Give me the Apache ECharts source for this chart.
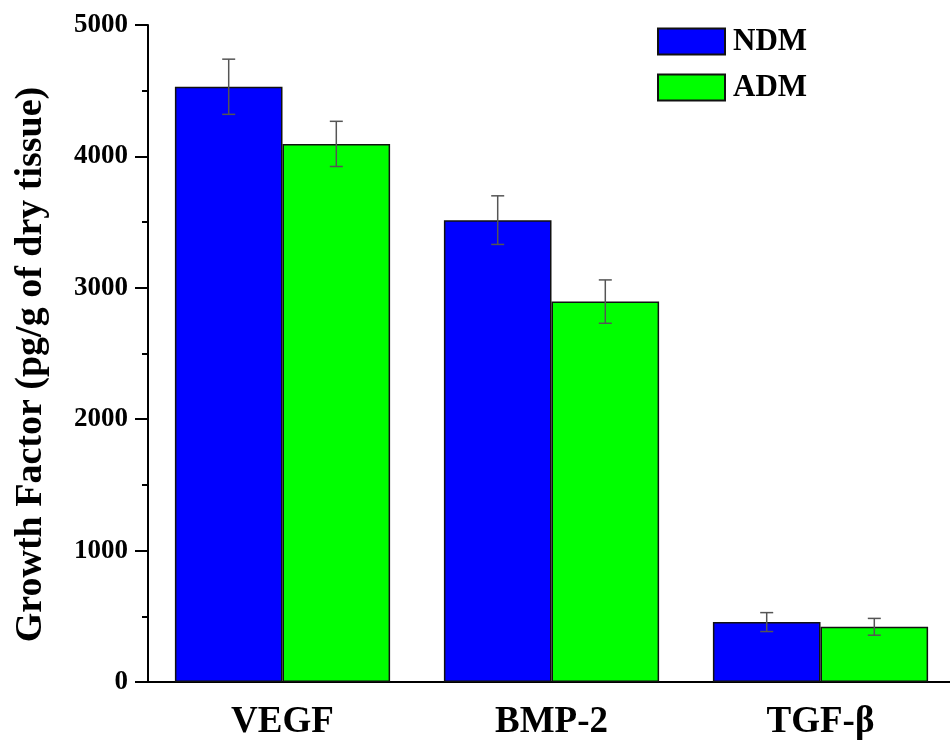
<!DOCTYPE html>
<html>
<head>
<meta charset="utf-8">
<script src="https://cdn.jsdelivr.net/npm/echarts@6/dist/echarts.min.js"></script>
<style>html,body{margin:0;padding:0;background:#fff;}#c{width:950px;height:740px;}</style>
</head>
<body>
<div id="c"></div>
<script>
const categories = ['VEGF', 'BMP-2', 'TGF-\u03b2'];
const seriesNames = ['NDM', 'ADM'];
const ndmValues = [4530, 3515, 456];
const ndmErrors = [210, 185, 72];
const admValues = [4095, 2895, 420];
const admErrors = [172, 165, 64];
const yTicks = [0, 1000, 2000, 3000, 4000, 5000];

const FONT = "'Liberation Serif', 'Times New Roman', serif";
const chart = echarts.init(document.getElementById('c'));

function errSeries(values, errors, idx) {
  return {
    type: 'custom',
    xAxisIndex: 0,
    yAxisIndex: 0,
    z: 5,
    silent: true,
    data: values.map((v, i) => [i, v - errors[i], v + errors[i]]),
    renderItem: function (params, api) {
      const lo = api.coord([api.value(0), api.value(1)]);
      const hi = api.coord([api.value(0), api.value(2)]);
      const band = api.size([1, 0])[0];
      const bw = band * 0.8 / 2;
      const x = lo[0] + (idx === 0 ? -bw / 2 : bw / 2);
      const cap = 6.5;
      const style = { stroke: '#555', lineWidth: 1.5 };
      return {
        type: 'group',
        children: [
          { type: 'line', shape: { x1: x, y1: lo[1], x2: x, y2: hi[1] }, style: style },
          { type: 'line', shape: { x1: x - cap, y1: hi[1], x2: x + cap, y2: hi[1] }, style: style },
          { type: 'line', shape: { x1: x - cap, y1: lo[1], x2: x + cap, y2: lo[1] }, style: style }
        ]
      };
    }
  };
}

chart.setOption({
  animation: false,
  backgroundColor: '#fff',
  grid: { left: 148, top: 25, height: 657, width: 807, outerBoundsMode: 'none', containLabel: false },
  legend: {
    data: seriesNames,
    orient: 'vertical',
    left: 652,
    top: 21,
    itemWidth: 67,
    itemHeight: 26,
    itemGap: 15,
    icon: 'rect',
    textStyle: { fontFamily: FONT, fontWeight: 'bold', fontSize: 31, color: '#000', padding: [0, 0, 0, 3] }
  },
  xAxis: [
    {
      type: 'category',
      data: categories,
      boundaryGap: true,
      axisLine: { lineStyle: { color: '#000', width: 2 } },
      axisTick: { alignWithLabel: true, length: 13, lineStyle: { color: '#000', width: 2 } },
      axisLabel: { fontFamily: FONT, fontWeight: 'bold', fontSize: 37, color: '#000', margin: 22 }
    },
    {
      type: 'category',
      data: categories,
      position: 'bottom',
      boundaryGap: true,
      axisLine: { show: false },
      axisTick: { length: 6, lineStyle: { color: '#000', width: 2 } },
      axisLabel: { show: false }
    }
  ],
  yAxis: {
    type: 'value',
    min: yTicks[0],
    max: yTicks[yTicks.length - 1],
    interval: 1000,
    name: 'Growth Factor (pg/g of dry tissue)',
    nameLocation: 'middle',
    nameGap: 98,
    nameTextStyle: { fontFamily: FONT, fontWeight: 'bold', fontSize: 38, color: '#000', padding: [0, 22, 0, 0] },
    axisLine: { show: true, lineStyle: { color: '#000', width: 2 } },
    axisTick: { show: true, length: 13, lineStyle: { color: '#000', width: 2 } },
    minorTick: { show: true, splitNumber: 2, length: 6, lineStyle: { color: '#000', width: 2 } },
    splitLine: { show: false },
    axisLabel: { fontFamily: FONT, fontWeight: 'bold', fontSize: 27, color: '#000', margin: 20, formatter: v => String(v) }
  },
  series: [
    {
      name: seriesNames[0],
      type: 'bar',
      data: ndmValues,
      barGap: '0%',
      barCategoryGap: '20%',
      itemStyle: { color: '#0000ff', borderColor: '#111', borderWidth: 1.5 }
    },
    {
      name: seriesNames[1],
      type: 'bar',
      data: admValues,
      barGap: '0%',
      barCategoryGap: '20%',
      itemStyle: { color: '#00ff00', borderColor: '#111', borderWidth: 1.5 }
    },
    errSeries(ndmValues, ndmErrors, 0),
    errSeries(admValues, admErrors, 1)
  ]
});
</script>
</body>
</html>
